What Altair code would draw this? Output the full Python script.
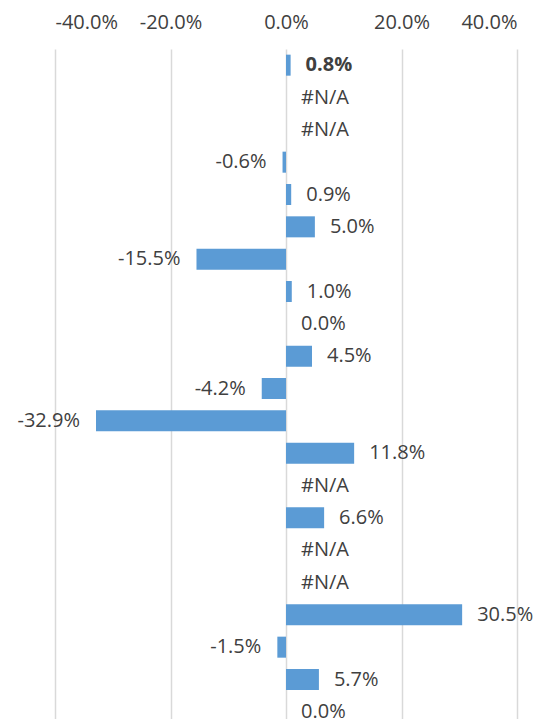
import altair as alt
import pandas as pd

rows = list(range(1, 22))
values = [0.8, None, None, -0.6, 0.9, 5.0, -15.5, 1.0, 0.0, 4.5, -4.2,
          -32.9, 11.8, None, 6.6, None, None, 30.5, -1.5, 5.7, 0.0]
labels = ["#N/A" if v is None else f"{v:.1f}%" for v in values]
tick_values = [-0.4, -0.2, 0.0, 0.2, 0.4]

df = pd.DataFrame({
    "row": rows,
    "value": [None if v is None else v / 100 for v in values],
    "pos": [0.0 if v is None else v / 100 for v in values],
    "label": labels,
    "neg": [v is not None and v < 0 for v in values],
})

FONT = "Open Sans"
TXT = "#404040"
FS = 20

x = alt.X("value:Q", scale=alt.Scale(domain=[-0.4, 0.4], nice=False, zero=False),
          axis=alt.Axis(orient="top", values=tick_values, title=None,
                        labelExpr="replace(format(datum.value, '.1%'), '\u2212', '-')",
                        ticks=False, domain=False, labelFontSize=FS, labelFont=FONT,
                        labelColor=TXT, labelPadding=17, grid=True, gridColor="#d9d9d9",
                        gridWidth=1.5))
y = alt.Y("row:O", scale=alt.Scale(paddingInner=0.35, paddingOuter=0.175), axis=None)

bars = alt.Chart(df).mark_bar(color="#5b9bd5").encode(x=x, y=y)

xpos = alt.X("pos:Q", scale=alt.Scale(domain=[-0.4, 0.4], nice=False, zero=False))

pos_txt = alt.Chart(df).transform_filter("!datum.neg && datum.row != 1").mark_text(
    align="left", baseline="middle", dx=15, fontSize=FS, font=FONT, color=TXT
).encode(x=xpos, y=y, text="label:N")

bold_txt = alt.Chart(df).transform_filter("datum.row == 1").mark_text(
    align="left", baseline="middle", dx=15, fontSize=FS, font=FONT, color=TXT,
    fontWeight="bold"
).encode(x=xpos, y=y, text="label:N")

neg_txt = alt.Chart(df).transform_filter("datum.neg").mark_text(
    align="right", baseline="middle", dx=-16, fontSize=FS, font=FONT, color=TXT
).encode(x=xpos, y=y, text="label:N")

chart = alt.layer(bars, pos_txt, bold_txt, neg_txt).properties(
    width=462, height=679,
    autosize=alt.AutoSizeParams(type="none"),
    padding={"left": 47, "top": 41, "right": 30, "bottom": 20},
).configure_view(stroke=None)

chart.save("out.html", embed_options={"renderer": "svg", "actions": False})
